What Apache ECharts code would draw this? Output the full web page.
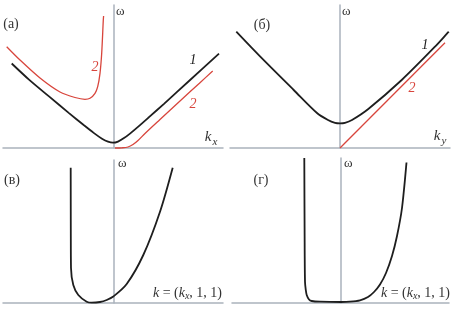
<!DOCTYPE html>
<html>
<head>
<meta charset="utf-8">
<script src="https://cdn.jsdelivr.net/npm/echarts@6/dist/echarts.min.js"></script>
<style>html,body{margin:0;padding:0;background:#fff}#c{width:454px;height:309px}</style>
</head>
<body>
<div id="c"></div>
<script>
// Panel (а): dispersion vs kx
var aCurve1 = [[-10.23,8.45],[-8.5,6.84],[-6.5,5.16],[-4.5,3.49],[-3,2.27],[-2,1.49],[-1.2,0.93],[-0.6,0.63],[-0.1,0.53],[0.4,0.64],[1.0,0.99],[1.6,1.44],[2.4,2.11],[3.5,3.08],[5,4.42],[7.5,6.7],[10.5,9.44]];
var aCurve2Left = [[-10.73,10.13],[-9.4,8.8],[-7.4,7.0],[-5.4,5.6],[-3.9,5.05],[-2.9,4.87],[-2.4,4.97],[-1.9,5.47],[-1.63,6.13],[-1.4,7.47],[-1.23,9.47],[-1.07,12.8],[-1.04,13.2]];
var aCurve2Right = [[0.1,0],[0.8,0.02],[1.4,0.1],[1.9,0.35],[2.4,0.75],[3.1,1.45],[4.6,2.85],[6.6,4.7],[8.6,6.53],[9.87,7.7]];
// Panel (б): dispersion vs ky
var bCurve1 = [[-10.37,11.63],[-7.97,9.13],[-4.63,5.8],[-2.3,3.5],[-1.2,2.8],[-0.5,2.52],[0,2.47],[0.5,2.52],[1.2,2.8],[2.83,3.9],[6.17,6.8],[9.5,10.13],[10.87,11.63]];
var bCurve2 = [[0,0],[10.5,10.53]];
// Panel (в): k = (kx,1,1)
var vCurve = [[-4.28,13.53],[-4.27,7.3],[-4.25,3.5],[-4.02,1.8],[-3.52,0.8],[-2.68,0.13],[-2.18,0.03],[-1.35,0.1],[-0.68,0.3],[-0.02,0.65],[1.32,1.9],[2.98,4.8],[4.65,9.13],[5.92,13.53]];
// Panel (г): k = (kx,1,1)
var gCurve = [[-3.67,14.5],[-3.64,7.3],[-3.6,2.13],[-3.52,1.3],[-3.43,0.8],[-3.2,0.35],[-2.93,0.2],[-2.1,0.13],[0,0.1],[0.9,0.13],[1.9,0.27],[2.7,0.6],[3.3,1.1],[3.9,1.85],[4.5,3.0],[5.1,4.7],[5.6,6.7],[6.1,9.5],[6.55,14.05]];

var panelLabels = ['(а)', '(б)', '(в)', '(г)'];
var axisName = 'ω';

var AX = '#aab2bc', BLK = '#1e1e1e', RED = '#d8453c';
var SERIF = '"Liberation Serif", "DejaVu Serif", serif';

var grids = [
  {left: 3, top: 5, width: 220, height: 143},
  {left: 230, top: 5, width: 220, height: 143},
  {left: 3, top: 160, width: 220, height: 143},
  {left: 232, top: 158, width: 217, height: 145}
];
var xr = [[-11.1, 10.9], [-11.0, 11.0], [-11.05, 10.95], [-10.9, 10.8]];
var yr = [[0, 14.3], [0, 14.3], [0, 14.3], [0, 14.5]];

function ax(i, r) {
  return {
    type: 'value', gridIndex: i, min: r[0], max: r[1],
    axisLine: {show: true, onZero: true, lineStyle: {color: AX, width: 1.5}},
    axisTick: {show: false}, axisLabel: {show: false}, splitLine: {show: false}
  };
}
function ln(i, data, color, w) {
  return {
    type: 'line', xAxisIndex: i, yAxisIndex: i, data: data, showSymbol: false,
    smooth: 0.3, clip: false, silent: true,
    lineStyle: {color: color, width: w}
  };
}
function txt(x, y, s, opt) {
  var st = Object.assign({text: s, fill: '#333', font: '14px ' + SERIF, align: 'center', verticalAlign: 'middle'}, opt || {});
  return {type: 'text', x: x, y: y, style: st, silent: true};
}
function formula(x, y) {
  return {type: 'text', x: x, y: y, silent: true, style: {
    text: '{i|k} = ({i|k}{s|x}, 1, 1)',
    align: 'right', verticalAlign: 'middle',
    rich: {
      i: {fontFamily: SERIF, fontSize: 14, fontStyle: 'italic', fill: '#333', lineHeight: 16},
      s: {fontFamily: SERIF, fontSize: 10, fontStyle: 'italic', fill: '#333', lineHeight: 10, verticalAlign: 'bottom'}
    },
    font: '14px ' + SERIF, fill: '#333'
  }};
}

var chart = echarts.init(document.getElementById('c'), null, {renderer: 'canvas'});
chart.setOption({
  animation: false,
  backgroundColor: '#fff',
  grid: grids,
  xAxis: [0,1,2,3].map(function(i){ return ax(i, xr[i]); }),
  yAxis: [0,1,2,3].map(function(i){ return ax(i, yr[i]); }),
  series: [
    ln(0, aCurve1, BLK, 1.8),
    ln(0, aCurve2Left, RED, 1.3),
    ln(0, aCurve2Right, RED, 1.3),
    ln(1, bCurve1, BLK, 1.8),
    {type: 'line', xAxisIndex: 1, yAxisIndex: 1, data: bCurve2, showSymbol: false, silent: true, lineStyle: {color: RED, width: 1.3}},
    ln(2, vCurve, BLK, 1.8),
    ln(3, gCurve, BLK, 1.8)
  ],
  graphic: [
    txt(11, 24, panelLabels[0]),
    txt(262, 25, panelLabels[1]),
    txt(12, 180, panelLabels[2]),
    txt(261, 180, panelLabels[3]),
    txt(116, 12, axisName, {align: 'left', font: '13px ' + SERIF}),
    txt(342, 12, axisName, {align: 'left', font: '13px ' + SERIF}),
    txt(118, 164, axisName, {align: 'left', font: '13px ' + SERIF}),
    txt(344, 164, axisName, {align: 'left', font: '13px ' + SERIF}),
    txt(193, 60, '1', {font: 'italic 14px ' + SERIF, fill: '#222'}),
    txt(95, 67, '2', {font: 'italic 14px ' + SERIF, fill: RED}),
    txt(193, 104, '2', {font: 'italic 14px ' + SERIF, fill: RED}),
    txt(425, 45, '1', {font: 'italic 14px ' + SERIF, fill: '#222'}),
    txt(412, 88, '2', {font: 'italic 14px ' + SERIF, fill: RED}),
    txt(208, 137, 'k', {font: 'italic 15px ' + SERIF}),
    txt(215, 142, 'x', {font: 'italic 11px ' + SERIF}),
    txt(437, 136, 'k', {font: 'italic 15px ' + SERIF}),
    txt(444, 141, 'y', {font: 'italic 11px ' + SERIF}),
    formula(222, 293),
    formula(450, 293)
  ]
});
</script>
</body>
</html>
